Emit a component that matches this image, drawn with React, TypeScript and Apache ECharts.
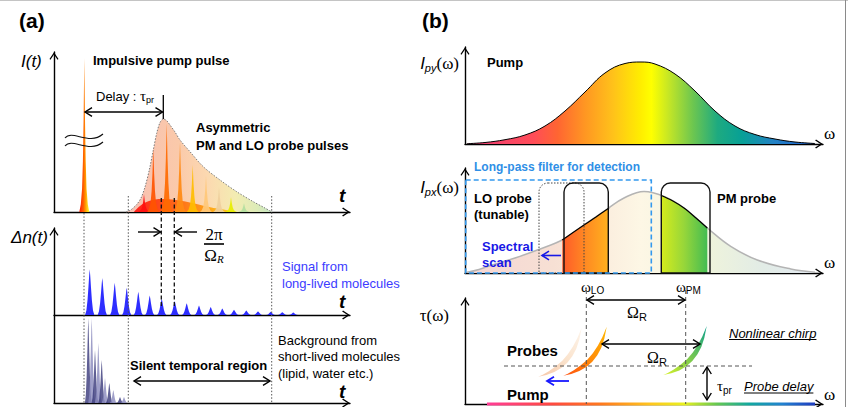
import React, { useEffect, useRef } from 'react';
import * as echarts from 'echarts';

const SANS = '"Liberation Sans", Arial, sans-serif';
const SERIF = '"Liberation Serif", "Times New Roman", serif';

// ================= Panel (a): time domain (x: time a.u., y: amplitude a.u.) =================
const pumpPulse = [[30.3, 154]];
const probeEnvelope = [
  [72, 0], [76, 1.5], [82.7, 7.5], [87, 14], [91, 25], [95.3, 42], [99.3, 62], [102.7, 78.7],
  [106, 89.5], [109.3, 93], [112.5, 91.5], [116, 87], [121, 80], [126, 72], [136, 60.3],
  [149.3, 45.3], [166, 32], [182.7, 20.3], [199.3, 10.3], [210, 4.5], [218, 0],
];
const loBaseline = [[80, 0], [86, 6], [95, 11], [108, 13], [122, 12], [138, 9], [155, 5], [172, 2], [182, 0]];
const probePulses = [
  [90, 17.7], [99.3, 63.7], [112.7, 88.7], [126, 69.3], [138.7, 47], [152, 36], [165, 24.7], [177, 14.7], [190, 8.7],
];
const probePulseColors = ['#ff1010', '#ff5400', '#ff6a00', '#ff8a12', '#ffbd00', '#ffc878', '#efcf9c', '#e6ee00', '#b2dea0'];
const longLivedSignal = [
  [35.7, 45.7], [48.3, 37], [60.7, 32.3], [72.7, 27.3], [84.3, 23.3], [95.7, 19.5], [107.7, 16.5], [120.7, 14],
  [132.7, 11.7], [145, 9.5], [156.7, 8], [168.3, 6.5], [180, 5.3], [192.3, 4.5], [204, 3.6], [216.7, 3.3],
  [228.3, 2.8], [239.3, 2.6],
];
const shortLivedBackground = [
  [34.3, 85], [37.7, 85], [41, 53], [44.3, 60], [47.7, 43], [51, 25], [55.3, 20], [59.3, 13], [66, 6], [70, 6],
];

// ================= Panel (b): frequency domain (x: omega a.u., y: intensity / delay a.u.) =================
const pumpSpectrum = [
  [2, 0.3], [20, 1.5], [40, 4.3], [60, 9], [80, 18], [100, 33], [120, 52], [140, 71], [160, 80.5], [176, 82],
  [190, 80], [210, 70], [230, 53], [250, 33], [270, 18], [290, 9.5], [310, 5], [330, 2], [350, 0.5],
];
const probeSpectrum = [
  [2, 0.7], [14, 3.5], [25.7, 7.5], [50, 15], [72.3, 23], [99, 34], [119, 48], [142.3, 64], [159, 75],
  [179, 81.6], [199, 76.6], [219, 65], [242.3, 45], [265.7, 26.6], [292.3, 13], [325.7, 4], [350, 0.8],
];
const loWindow = [[97.3, 33], [108, 40.5], [119, 48], [131, 56], [144, 65]];
const pmWindow = [[196.3, 77.5], [207, 72.5], [219, 65], [231, 55], [242.3, 45]];
const filterBands = [[74, 119, 90], [99, 143.3, 90], [196.3, 245, 90]];
const filterBandDotted = [true, false, false];
const detectionFilter = [[0.7, 186.3, 93]];
const rainbowAxis = [[22, 350]];
const chirpAnchors = [[73.3, 27.3], [98.3, 28.3], [198.3, 29]];
const chirpShape = [
  [0, 0], [8, 1.8], [16, 4.6], [23, 8.7], [29, 14], [34, 20.5], [38, 28], [41, 37], [43.4, 49],
  [39, 38.5], [34.5, 30], [29.5, 22.5], [24, 16], [17.5, 10.5], [10.5, 5.5], [4, 1.8],
];

// spike outlines (relative geometry of a single pulse)
const SPIKE_SHARP = [[-1, 0], [-0.7, 0.05], [-0.45, 0.15], [-0.28, 0.33], [-0.14, 0.6], [0, 1], [0.14, 0.6], [0.28, 0.33], [0.45, 0.15], [0.7, 0.05], [1, 0]];
const SPIKE_BELL = [[-1, 0], [-0.72, 0.1], [-0.48, 0.32], [-0.28, 0.6], [-0.11, 0.87], [0, 1], [0.11, 0.87], [0.28, 0.6], [0.48, 0.32], [0.72, 0.1], [1, 0]];

const grad = (stops: [number, string][], x = 0, y = 0, x2 = 1, y2 = 0) => ({
  type: 'linear', x, y, x2, y2, global: false,
  colorStops: stops.map(([offset, color]) => ({ offset, color })),
});

const RAINBOW: [number, string][] = [
  [0, '#ee3c78'], [0.19, '#ff4c58'], [0.26, '#ff6532'], [0.34, '#ff9722'], [0.42, '#ffc21a'],
  [0.5, '#ffee00'], [0.53, '#ffff00'], [0.58, '#c4e626'], [0.65, '#6cc650'], [0.72, '#1eaa80'],
  [0.79, '#07a096'], [0.88, '#2282c4'], [1, '#2060d2'],
];

const ARROW = 'path://M5,0 L10,7.6 L8.9,8.6 L5,2.6 L1.1,8.6 L0,7.6 Z';

function mkAxis(gridIndex: number, max: number, arrow = true) {
  return {
    type: 'value', gridIndex, min: 0, max,
    axisLine: {
      show: true, onZero: false,
      symbol: arrow ? ['none', ARROW] : ['none', 'none'],
      symbolSize: [9, 8], symbolOffset: [0, -4],
      lineStyle: { color: '#000', width: 1.4 },
    },
    axisTick: { show: false }, axisLabel: { show: false }, splitLine: { show: false },
  };
}

function spikeSeries(data: number[][], axis: number, profile: number[][], halfW: number, fill: (i: number) => any, opacity = 1, z = 4) {
  return {
    type: 'custom', xAxisIndex: axis, yAxisIndex: axis, data, z, silent: true,
    renderItem: (params: any, api: any) => {
      const c = api.value(0), h = api.value(1);
      const pts = profile.map(([fx, fy]) => api.coord([c + fx * halfW, fy * h]));
      return { type: 'polygon', shape: { points: pts }, style: { fill: fill(params.dataIndex), opacity } };
    },
  };
}

let mctx: CanvasRenderingContext2D | null = null;
function tw(text: string, font: string) {
  if (!mctx) mctx = document.createElement('canvas').getContext('2d');
  mctx!.font = font;
  return mctx!.measureText(text).width;
}

type Seg = { t: string; f: string; dy?: number };
function label(x: number, y: number, segs: Seg[] | string, font?: string, color = '#000', align: 'left' | 'center' | 'right' = 'left') {
  const list: Seg[] = typeof segs === 'string' ? [{ t: segs, f: font as string }] : segs;
  const widths = list.map((s) => tw(s.t, s.f));
  const total = widths.reduce((a, b) => a + b, 0);
  let cx = align === 'left' ? x : align === 'center' ? x - total / 2 : x - total;
  const out: any[] = [];
  list.forEach((s, i) => {
    out.push({
      type: 'text', x: cx, y: y + (s.dy || 0), z: 100, silent: true,
      style: { text: s.t, font: s.f, fill: color, textAlign: 'left', textVerticalAlign: 'middle' },
    });
    cx += widths[i];
  });
  return out;
}

function line(x1: number, y1: number, x2: number, y2: number, stroke = '#000', lineWidth = 1.3, lineDash?: number[]) {
  return { type: 'line', z: 100, silent: true, shape: { x1, y1, x2, y2 }, style: { stroke, lineWidth, lineDash } };
}

function arrow(x1: number, y1: number, x2: number, y2: number, start: boolean, end: boolean, stroke = '#000', lw = 1.4, s = 7) {
  const els: any[] = [line(x1, y1, x2, y2, stroke, lw)];
  const ang = Math.atan2(y2 - y1, x2 - x1);
  const hw = s * 0.62;
  const head = (x: number, y: number, a: number) => {
    const bx = x - s * Math.cos(a), by = y - s * Math.sin(a);
    const px = -Math.sin(a) * hw, py = Math.cos(a) * hw;
    return { type: 'polyline', z: 100, silent: true, shape: { points: [[bx + px, by + py], [x, y], [bx - px, by - py]] }, style: { stroke, lineWidth: lw, fill: null } };
  };
  if (end) els.push(head(x2, y2, ang));
  if (start) els.push(head(x1, y1, ang + Math.PI));
  return els;
}

function buildOption() {
  const B = (px: number) => `bold ${px}px ${SANS}`;
  const R = (px: number) => `${px}px ${SANS}`;
  const I = (px: number) => `italic ${px}px ${SANS}`;
  const S = (px: number) => `${px}px ${SERIF}`;

  const graphics: any[] = [
    // frame
    line(0, 0.5, 848, 0.5, '#c4c4c4', 1),
    line(845.5, 0, 845.5, 407, '#8a8a8a', 1),

    // ---------- panel (a) ----------
    ...label(19, 20, '(a)', B(21)),
    ...label(21, 61, 'I(t)', I(17)),
    ...label(11, 237, 'Δn(t)', I(17)),
    ...label(339, 195, 't', `bold italic 19px ${SANS}`),
    ...label(339, 301, 't', `bold italic 19px ${SANS}`),
    ...label(339, 391.5, 't', `bold italic 19px ${SANS}`),
    ...label(93, 60, 'Impulsive pump pulse', B(13)),
    ...label(96, 96, [{ t: 'Delay : ', f: R(13) }, { t: 'τ', f: S(15) }, { t: 'pr', f: R(9), dy: 4 }]),
    ...label(196, 127, 'Asymmetric', B(13)),
    ...label(196, 145, 'PM and LO probe pulses', B(13)),
    ...label(214, 234, [{ t: '2π', f: S(17) }], undefined, '#000', 'center'),
    ...label(214, 255, [{ t: 'Ω', f: S(17) }, { t: 'R', f: `italic 11px ${SERIF}`, dy: 4 }], undefined, '#000', 'center'),
    line(204, 244, 224, 244, '#000', 1.6),
    ...label(282, 266, 'Signal from', R(13), '#3c3cff'),
    ...label(282, 283, 'long-lived molecules', R(13), '#3c3cff'),
    ...label(130, 365, 'Silent temporal region', B(13)),
    ...label(278, 340, 'Background from', R(13)),
    ...label(278, 356.5, 'short-lived molecules', R(13)),
    ...label(278, 373, '(lipid, water etc.)', R(13)),

    line(84, 213, 84, 403, '#555', 1, [1.5, 1.8]),
    line(128.3, 196, 128.3, 403, '#555', 1, [1.5, 1.8]),
    line(271.7, 196, 271.7, 403, '#555', 1, [1.5, 1.8]),
    line(161.3, 198, 161.3, 307, '#111', 1.3, [4, 2.5]),
    line(174.3, 198, 174.3, 307, '#111', 1.3, [4, 2.5]),
    ...arrow(85, 112, 162.5, 112, true, true),
    line(163.3, 95, 163.3, 119, '#000', 1.3),
    { type: 'bezierCurve', z: 100, silent: true, shape: { x1: 65, y1: 138, cpx1: 72, cpy1: 129, cpx2: 89, cpy2: 146, x2: 103, y2: 134 }, style: { stroke: '#111', lineWidth: 1.1, fill: null } },
    { type: 'bezierCurve', z: 100, silent: true, shape: { x1: 65, y1: 146, cpx1: 72, cpy1: 137, cpx2: 89, cpy2: 154, x2: 103, y2: 142 }, style: { stroke: '#111', lineWidth: 1.1, fill: null } },
    ...arrow(138, 232, 160.5, 232, false, true),
    ...arrow(197, 232, 175, 232, false, true),
    ...arrow(134, 381, 270, 381, true, true),

    // ---------- panel (b) ----------
    ...label(422, 20, '(b)', B(21)),
    ...label(459, 63, [{ t: 'I', f: I(17) }, { t: 'py', f: I(11), dy: 5 }, { t: '(ω)', f: S(17) }], undefined, '#000', 'right'),
    ...label(487, 62, 'Pump', B(13)),
    ...label(824, 133, 'ω', S(17)),
    ...label(459, 187, [{ t: 'I', f: I(17) }, { t: 'px', f: I(11), dy: 5 }, { t: '(ω)', f: S(17) }], undefined, '#000', 'right'),
    ...label(474, 167, 'Long-pass filter for detection', B(12), '#2f8fe6'),
    ...label(474, 198, 'LO probe', B(13)),
    ...label(474, 214, '(tunable)', B(13)),
    ...label(482, 246, 'Spectral', B(13), '#1818e6'),
    ...label(482, 262, 'scan', B(13), '#1818e6'),
    ...label(717, 198, 'PM probe', B(13)),
    ...label(824, 262, 'ω', S(17)),
    ...arrow(561, 255.5, 542, 255.5, false, true, '#1818e6', 1.6),

    ...label(449, 315, 'τ(ω)', S(17), '#000', 'right'),
    ...label(581, 287, [{ t: 'ω', f: S(15) }, { t: 'LO', f: R(10), dy: 3 }]),
    ...label(676, 287, [{ t: 'ω', f: S(15) }, { t: 'PM', f: R(10), dy: 3 }]),
    ...label(627, 312, [{ t: 'Ω', f: S(16) }, { t: 'R', f: R(11), dy: 5 }]),
    ...label(647, 357, [{ t: 'Ω', f: S(16) }, { t: 'R', f: R(11), dy: 5 }]),
    ...label(507, 350, 'Probes', B(15)),
    ...label(507, 394, 'Pump', B(15)),
    ...label(717, 386, [{ t: 'τ', f: S(15) }, { t: 'pr', f: R(10), dy: 4 }]),
    ...label(729, 333, 'Nonlinear chirp', I(13)),
    line(729, 339.5, 729 + tw('Nonlinear chirp', I(13)), 339.5, '#000', 1),
    ...label(744, 386.5, 'Probe delay', I(13)),
    line(744, 393, 744 + tw('Probe delay', I(13)), 393, '#000', 1),
    ...label(824, 394, 'ω', S(17)),
    line(586.3, 290, 586.3, 404, '#555', 1, [4, 3]),
    line(685.7, 290, 685.7, 404, '#555', 1, [4, 3]),
    line(504, 366, 752, 366, '#555', 1, [4, 3]),
    ...arrow(587, 300, 685, 300, true, true),
    ...arrow(602, 344, 700, 344, true, true),
    ...arrow(707, 367, 707, 400, true, true),
    ...arrow(569, 381, 547, 381, false, true, '#1818ff', 1.8),
  ];

  const series: any[] = [
    // (a) top: probe envelope
    {
      type: 'line', xAxisIndex: 0, yAxisIndex: 0, data: probeEnvelope, smooth: 0.3, symbol: 'none', z: 2, silent: true, clip: false,
      lineStyle: { color: '#7a7a7a', width: 1, type: [1.5, 1.5] },
      areaStyle: { opacity: 1, color: grad([[0, '#f8bfb2'], [0.35, '#fac9aa'], [0.55, '#fcd8b0'], [0.75, '#f3ecb2'], [0.9, '#dcebb8'], [1, '#c4e5c4']]) },
    },
    // LO pulse base
    {
      type: 'line', xAxisIndex: 0, yAxisIndex: 0, data: loBaseline, smooth: 0.4, symbol: 'none', z: 3, silent: true, clip: false,
      lineStyle: { width: 0 },
      areaStyle: { opacity: 0.85, color: grad([[0, '#ff0000'], [0.3, '#ff4000'], [0.65, '#ff8a00'], [1, '#ffd000']]) },
    },
    spikeSeries(probePulses, 0, SPIKE_SHARP, 6, (i) => probePulseColors[i], 0.92, 4),
    spikeSeries(pumpPulse, 0, SPIKE_SHARP, 5, () => grad([[0, '#ff1a00'], [0.42, '#ff6000'], [0.62, '#ff9a00'], [1, '#ffff30']]), 1, 4),
    // (a) middle: long-lived signal
    spikeSeries(longLivedSignal, 1, SPIKE_BELL, 4.6, () => '#2e2eff', 1, 4),
    // (a) bottom: short-lived background
    spikeSeries(shortLivedBackground, 2, SPIKE_BELL, 3.4, (i) => (i % 2 === 0 ? '#3c3c7c' : '#8a8abd'), 0.82, 4),

    // (b) top: pump spectrum
    {
      type: 'line', xAxisIndex: 3, yAxisIndex: 3, data: pumpSpectrum, smooth: 0.4, symbol: 'none', z: 3, silent: true, clip: false,
      lineStyle: { color: '#000', width: 1 },
      areaStyle: { opacity: 1, color: grad(RAINBOW) },
    },
    // (b) middle: probe spectrum
    {
      type: 'line', xAxisIndex: 4, yAxisIndex: 4, data: probeSpectrum, smooth: 0.4, symbol: 'none', z: 3, silent: true, clip: false,
      lineStyle: { color: '#b4b4b4', width: 1.5 },
      areaStyle: { opacity: 1, color: grad([[0, '#f5d6d4'], [0.25, '#f7e0d4'], [0.5, '#fdf7e5'], [0.7, '#eef3dc'], [0.85, '#e2ece6'], [1, '#e4eaf2']]) },
    },
    {
      type: 'line', xAxisIndex: 4, yAxisIndex: 4, data: loWindow, smooth: 0.3, symbol: 'none', z: 4, silent: true, clip: false,
      lineStyle: { color: '#000', width: 1.2 },
      areaStyle: { opacity: 1, color: grad([[0, '#ff5a2a'], [0.5, '#ff8a22'], [1, '#ffb21e']]) },
    },
    {
      type: 'line', xAxisIndex: 4, yAxisIndex: 4, data: pmWindow, smooth: 0.3, symbol: 'none', z: 4, silent: true, clip: false,
      lineStyle: { color: '#000', width: 1.2 },
      areaStyle: { opacity: 1, color: grad([[0, '#d6ec1c'], [0.5, '#96d63a'], [1, '#44bc52']]) },
    },
    {
      type: 'custom', xAxisIndex: 4, yAxisIndex: 4, data: filterBands, z: 6, silent: true,
      renderItem: (params: any, api: any) => {
        const p0 = api.coord([api.value(0), 0]);
        const p1 = api.coord([api.value(1), api.value(2)]);
        const dotted = filterBandDotted[params.dataIndex];
        return {
          type: 'rect',
          shape: { x: p0[0], y: p1[1], width: p1[0] - p0[0], height: p0[1] - p1[1], r: [9, 9, 0, 0] },
          style: { fill: 'none', stroke: dotted ? '#444' : '#111', lineWidth: dotted ? 1 : 1.4, lineDash: dotted ? [1.5, 1.5] : null },
        };
      },
    },
    {
      type: 'custom', xAxisIndex: 4, yAxisIndex: 4, data: detectionFilter, z: 7, silent: true,
      renderItem: (params: any, api: any) => {
        const p0 = api.coord([api.value(0), 0]);
        const p1 = api.coord([api.value(1), api.value(2)]);
        return {
          type: 'rect',
          shape: { x: p0[0], y: p1[1], width: p1[0] - p0[0], height: p0[1] - p1[1] },
          style: { fill: 'none', stroke: '#3399ee', lineWidth: 1.6, lineDash: [5, 3] },
        };
      },
    },
    // (b) bottom: rainbow frequency axis + chirped pulses
    {
      type: 'custom', xAxisIndex: 5, yAxisIndex: 5, data: rainbowAxis, z: 5, silent: true,
      renderItem: (params: any, api: any) => {
        const p0 = api.coord([api.value(0), 0]);
        const p1 = api.coord([api.value(1), 0]);
        return {
          type: 'rect',
          shape: { x: p0[0], y: p0[1] - 1.4, width: p1[0] - p0[0], height: 2.8 },
          style: { fill: grad([[0, '#ff3c96'], [0.2, '#ff4a40'], [0.35, '#ff7a1e'], [0.5, '#ffc61e'], [0.6, '#e8f01e'], [0.7, '#66c850'], [0.8, '#12a8a0'], [0.9, '#2282d0'], [1, '#1e3cc0']]) },
        };
      },
    },
    {
      type: 'custom', xAxisIndex: 5, yAxisIndex: 5, data: chirpAnchors, z: 6, silent: true,
      renderItem: (params: any, api: any) => {
        const ax = api.value(0), ay = api.value(1);
        const pts = chirpShape.map(([dx, dy]) => api.coord([ax + dx, ay + dy]));
        const fills = [
          grad([[0, '#f4b890'], [0.5, '#f9dcc0'], [1, '#fdf2e6']], 0, 1, 1, 0),
          grad([[0, '#ff5010'], [0.5, '#ff8c08'], [1, '#ffb800']], 0, 1, 1, 0),
          grad([[0, '#d8f228'], [0.5, '#78c850'], [1, '#0ca08a']], 0, 1, 1, 0),
        ];
        return { type: 'polygon', shape: { points: pts }, style: { fill: fills[params.dataIndex], opacity: params.dataIndex === 0 ? 0.8 : 1 } };
      },
    },
  ];

  return {
    animation: false,
    backgroundColor: '#ffffff',
    textStyle: { fontFamily: SANS },
    grid: [
      { left: 54, top: 52, width: 296, height: 160 },
      { left: 54, top: 228, width: 296, height: 87 },
      { left: 54, top: 315, width: 296, height: 88 },
      { left: 465, top: 47, width: 358, height: 97 },
      { left: 465, top: 168, width: 358, height: 105 },
      { left: 465, top: 298, width: 358, height: 106 },
    ],
    xAxis: [mkAxis(0, 296), mkAxis(1, 296), mkAxis(2, 296), mkAxis(3, 358), mkAxis(4, 358), mkAxis(5, 358)],
    yAxis: [mkAxis(0, 160), mkAxis(1, 87), mkAxis(2, 88, false), mkAxis(3, 97), mkAxis(4, 105), mkAxis(5, 106)],
    series,
    graphic: { elements: graphics },
  };
}

export default function App() {
  const ref = useRef<HTMLDivElement>(null);
  useEffect(() => {
    document.body.style.margin = '0';
    const chart = echarts.init(ref.current as HTMLDivElement, null, { renderer: 'svg' });
    chart.setOption(buildOption() as any);
    return () => chart.dispose();
  }, []);
  return <div ref={ref} style={{ position: 'absolute', left: 0, top: 0, width: 848, height: 407, background: '#fff' }} />;
}
